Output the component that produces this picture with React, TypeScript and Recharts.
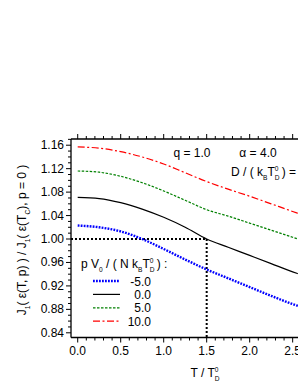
import { LineChart, Line, XAxis, YAxis, ReferenceLine } from "recharts";

// ---------------------------------------------------------------------------
// Data
// ---------------------------------------------------------------------------

const temps = [0, 0.25, 0.5, 0.75, 1.0, 1.25, 1.5, 1.75, 2.0, 2.25, 2.5, 2.56];
const pMinus5 = [1.023, 1.02, 1.013, 1.0, 0.983, 0.965, 0.948, 0.933, 0.918, 0.903, 0.889, 0.886];
const p0 = [1.071, 1.069, 1.062, 1.051, 1.037, 1.02, 1.0, 0.986, 0.972, 0.958, 0.944, 0.941];
const p5 = [1.116, 1.114, 1.107, 1.096, 1.082, 1.066, 1.05, 1.039, 1.027, 1.015, 1.003, 1.0];
const p10 = [1.157, 1.155, 1.149, 1.14, 1.128, 1.113, 1.098, 1.085, 1.073, 1.06, 1.047, 1.044];

const xMajorTicks = [0, 0.5, 1.0, 1.5, 2.0, 2.5];
const yMajorTicks = [0.84, 0.88, 0.92, 0.96, 1.0, 1.04, 1.08, 1.12, 1.16];

const seriesLabels = ["-5.0", "0.0", "5.0", "10.0"];

// minor ticks every 0.1 on x, every 0.01 on y
const xTicks = Array.from({ length: 26 }, (_, i) => +(i * 0.1).toFixed(2));
const yTicks = Array.from({ length: 34 }, (_, i) => +(0.84 + i * 0.01).toFixed(2));

const data = temps.map((t, i) => ({
  t,
  a: pMinus5[i],
  b: p0[i],
  c: p5[i],
  d: p10[i],
}));

const FONT = "'Liberation Sans', Arial, sans-serif";
const FS = 12;

const styles = [
  { key: "a", color: "#0000ff", width: 2.4, dash: "1.8 1.2" },
  { key: "b", color: "#000000", width: 1.2, dash: undefined },
  { key: "c", color: "#008000", width: 1.2, dash: "2.5 1.5" },
  { key: "d", color: "#ff0000", width: 1.2, dash: "7 2.5 2 2.5" },
];

const isMajor = (v: number, list: number[]) =>
  list.some((m) => Math.abs(m - v) < 1e-6);

function BottomTick(props: any) {
  const { x, y, payload } = props;
  const major = isMajor(payload.value, xMajorTicks);
  return (
    <g>
      <line x1={x} x2={x} y1={y} y2={y + (major ? 5 : 3)} stroke="#000" strokeWidth={1} />
      {major && (
        <text x={x} y={y + 17} textAnchor="middle" fontSize={FS} fontFamily={FONT} fill="#000">
          {payload.value.toFixed(1)}
        </text>
      )}
    </g>
  );
}

function TopTick(props: any) {
  const { x, y, payload } = props;
  const major = isMajor(payload.value, xMajorTicks);
  return <line x1={x} x2={x} y1={y} y2={y - (major ? 5 : 3)} stroke="#000" strokeWidth={1} />;
}

function LeftTick(props: any) {
  const { x, y, payload } = props;
  const major = isMajor(payload.value, yMajorTicks);
  return (
    <g>
      <line x1={x} x2={x - (major ? 5 : 3)} y1={y} y2={y} stroke="#000" strokeWidth={1} />
      {major && (
        <text x={x - 7} y={y + 4} textAnchor="end" fontSize={FS} fontFamily={FONT} fill="#000">
          {payload.value.toFixed(2)}
        </text>
      )}
    </g>
  );
}

// small subscript that returns to the baseline afterwards
function Sub({ s, size }: { s: string; size: number }) {
  return (
    <tspan fontSize={size * 0.55} baselineShift={-size * 0.3}>
      {s}
    </tspan>
  );
}

// T with stacked D below and 0 above
function TD({ size }: { size: number }) {
  return (
    <>
      <tspan>T</tspan>
      <tspan fontSize={size * 0.55} baselineShift={-size * 0.3}>D</tspan>
      <tspan fontSize={size * 0.55} dx={-size * 0.4} baselineShift={size * 0.45}>0</tspan>
    </>
  );
}

export default function App() {
  return (
    <div style={{ position: "absolute", left: 0, top: 0, width: 298, height: 385, overflow: "hidden", background: "#fff" }}>
      <LineChart width={298} height={385} data={data} margin={{ top: 129, right: 0, bottom: 0, left: 0 }}>
        <XAxis
          dataKey="t"
          type="number"
          domain={[-0.078, 2.562]}
          allowDataOverflow
          ticks={xTicks}
          interval={0}
          height={47.5}
          tickSize={0}
          tickMargin={0}
          tick={<BottomTick />}
          axisLine={{ stroke: "#000", strokeWidth: 1.3 }}
        />
        <XAxis
          xAxisId="top"
          dataKey="t"
          type="number"
          orientation="top"
          domain={[-0.078, 2.562]}
          allowDataOverflow
          ticks={xTicks}
          interval={0}
          height={10}
          tickSize={0}
          tickMargin={0}
          tick={<TopTick />}
          axisLine={{ stroke: "#000", strokeWidth: 1.3 }}
        />
        <YAxis
          type="number"
          domain={[0.832, 1.1706]}
          allowDataOverflow
          ticks={yTicks}
          interval={0}
          width={71}
          tickSize={0}
          tickMargin={0}
          tick={<LeftTick />}
          axisLine={{ stroke: "#000", strokeWidth: 1.3 }}
        />

        <ReferenceLine
          segment={[{ x: -0.078, y: 1.0 }, { x: 1.5, y: 1.0 }]}
          stroke="#000"
          strokeWidth={2}
          strokeDasharray="2 2"
        />
        <ReferenceLine
          segment={[{ x: 1.5, y: 1.0 }, { x: 1.5, y: 0.832 }]}
          stroke="#000"
          strokeWidth={2}
          strokeDasharray="2 2"
        />

        {styles.map((s) => (
          <Line
            key={s.key}
            dataKey={s.key}
            type="monotone"
            stroke={s.color}
            strokeWidth={s.width}
            strokeDasharray={s.dash}
            dot={false}
            isAnimationActive={false}
          />
        ))}

        {/* annotations */}
        <g fontFamily={FONT} fill="#000">
          <text x={192} y={157} fontSize={FS} textAnchor="middle">q = 1.0</text>
          <text x={258} y={157} fontSize={FS} textAnchor="middle">α = 4.0</text>
          <text x={231} y={176} fontSize={FS}>
            D / ( k<Sub s="B" size={FS} /><TD size={FS} /> ) =
          </text>

          <text x={81} y={268} fontSize={FS}>
            p V<Sub s="0" size={FS} /> / ( N k<Sub s="B" size={FS} /><TD size={FS} /> ) :
          </text>
          {styles.map((s, i) => (
            <g key={s.key}>
              <line
                x1={93}
                x2={120}
                y1={281 + i * 13.4}
                y2={281 + i * 13.4}
                stroke={s.color}
                strokeWidth={s.width}
                strokeDasharray={s.dash}
              />
              <text x={151} y={285.5 + i * 13.4} fontSize={FS} textAnchor="end">
                {seriesLabels[i]}
              </text>
            </g>
          ))}

          <text x={205} y={377} fontSize={FS} textAnchor="middle">
            T / <TD size={FS} />
          </text>

          <text x={26} y={240} fontSize={FS} textAnchor="middle" transform="rotate(-90, 26, 240)">
            J<Sub s="1" size={FS} />( ε(T, p) ) / J<Sub s="1" size={FS} />( ε(T<Sub s="C" size={FS} />), p = 0 )
          </text>
        </g>
      </LineChart>
    </div>
  );
}
